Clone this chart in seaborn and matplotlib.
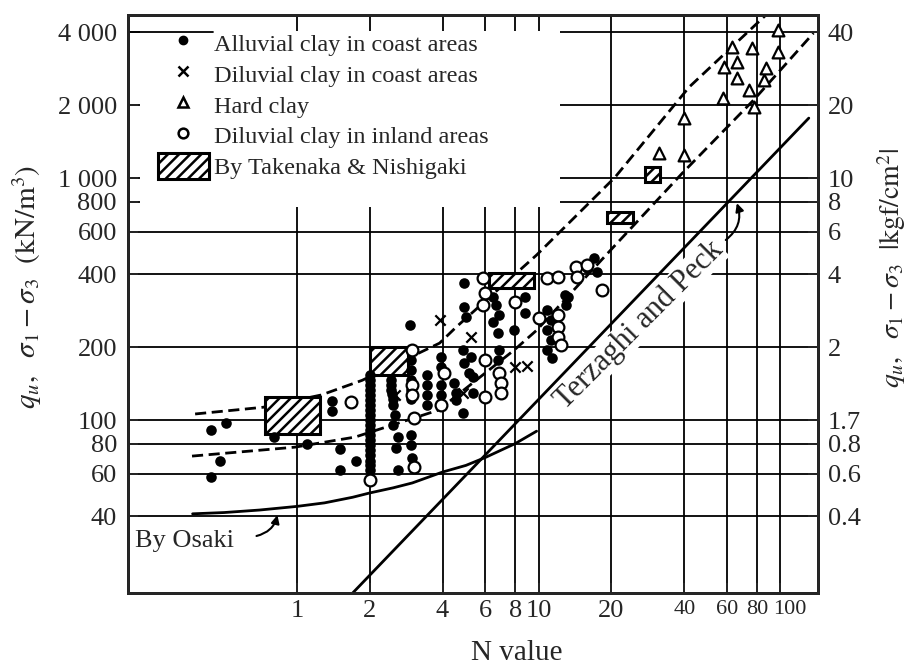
import matplotlib
matplotlib.use("Agg")
import matplotlib.pyplot as plt
import matplotlib.transforms as mtransforms
from matplotlib.patches import Rectangle, Patch
from matplotlib.lines import Line2D
from matplotlib.ticker import FixedLocator, FixedFormatter, NullLocator
import seaborn as sns

# ---------------- data ----------------
# Alluvial clay in coast areas (N value, unconfined strength kN/m2)
alluvial_n = [0.44, 0.51, 0.48, 0.44, 0.80, 1.39, 1.39, 1.10, 1.51, 1.75, 1.51,
              2.0, 2.0, 2.0, 2.0, 2.0, 2.0, 2.0, 2.0, 2.0, 2.0,
              2.0, 2.0, 2.0, 2.0, 2.0, 2.0, 2.0, 2.0, 2.0, 2.0,
              2.45, 2.45, 2.5, 2.54, 2.5, 2.61, 2.56, 2.61, 2.47, 2.5, 2.45,
              2.95, 2.95, 2.95, 2.95, 2.95, 3.0, 2.93, 2.95, 2.95,
              3.45, 3.45, 3.45, 3.45, 3.96, 3.96, 3.96, 3.96,
              4.47, 4.55, 4.55, 4.9, 4.9, 5.0,
              6.45, 6.65, 6.86, 6.5, 6.8, 8.78, 8.78, 7.93,
              10.8, 11.2, 10.8, 11.2, 10.8, 11.4, 13.2, 6.86, 6.8,
              4.86, 4.9, 5.23, 5.13, 5.37, 5.37, 4.86,
              17.0, 17.4, 15.9, 12.9, 13.0]
alluvial_q = [91, 97, 68, 58, 85, 120, 109, 80, 76, 68, 62,
              153, 146, 140, 133, 127, 121, 115, 110, 105, 100,
              95, 91, 87, 83, 79, 75, 72, 68, 65, 62,
              146, 140, 115, 105, 95, 85, 77, 62, 128, 122, 133,
              177, 161, 146, 87, 79, 70, 247, 133, 122,
              153, 140, 127, 115, 182, 166, 140, 127,
              142, 129, 121, 368, 293, 267,
              322, 299, 272, 254, 229, 322, 277, 235,
              285, 259, 235, 214, 195, 180, 322, 195, 177,
              195, 172, 182, 156, 151, 129, 107,
              467, 409, 425, 329, 299]

# Diluvial clay in coast areas
dil_coast_n = [3.89, 2.54, 5.23, 4.86, 8.0, 8.94]
dil_coast_q = [259, 127, 220, 129, 166, 167]

# Hard clay
hard_n = [31.3, 40, 40, 58, 58.5, 63.3, 66, 66, 74.3, 75.9, 77.5, 85.2, 87.5, 98, 98]
hard_q = [1270, 1245, 1770, 2140, 2875, 3480, 3015, 2590, 2310, 3445, 1965, 2540, 2850, 4090, 3320]

# Diluvial clay in inland areas
dil_inland_n = [1.67, 2.0, 3.0, 3.0, 3.0, 3.06, 3.06, 4.04, 3.96,
                5.89, 6.0, 5.89, 8.0, 10.0, 10.8, 12.0, 14.2, 14.4, 15.9, 18.3,
                12.0, 12.0, 12.0, 12.4, 6.0, 6.86, 7.0, 7.0, 6.0]
dil_inland_q = [119, 56.5, 195, 140, 127, 102, 64, 156, 115,
                386, 335, 299, 307, 264, 386, 390, 429, 390, 437, 344,
                272, 242, 220, 204, 177, 156, 142, 129, 124]

# Ranges by Takenaka & Nishigaki
box_n_lo = [0.74, 2.0, 6.2, 19.2, 27.4]
box_n_hi = [1.24, 2.87, 9.6, 24.6, 31.6]
box_q_lo = [88, 153, 351, 652, 962]
box_q_hi = [124, 200, 405, 724, 1110]

# Envelope curves (dashed)
upper_n = [0.379, 0.724, 1.26, 1.86, 3.89, 4.55, 9.8, 20.7, 41.9, 91.4]
upper_q = [106, 113, 127, 146, 208, 242, 481, 1009, 2377, 4940]
lower_n = [0.368, 0.98, 1.74, 3.85, 7.93, 9.8, 20.2, 39.3, 77.4, 137]
lower_q = [71, 77.3, 85.1, 110, 195, 235, 514, 1049, 2100, 3975]

# Terzaghi and Peck
terzaghi_n = [1.7, 131]
terzaghi_q = [19.3, 1770]

# Osaki
osaki_n = [0.37, 0.5, 0.7, 1.0, 1.3, 1.7, 2.0, 2.5, 3.0, 4.0, 5.0, 6.0, 8.0, 9.8]
osaki_q = [41, 41.5, 42.5, 44, 45.5, 48, 50, 52.5, 55, 61, 65, 70, 80, 90]

x_ticks = [1, 2, 4, 6, 8, 10, 20, 40, 60, 80, 100]
x_tick_labels = ["1", "2", "4", "6", "8", "10", "20", "40", "60", "80", "100"]
y_ticks = [40, 60, 80, 100, 200, 400, 600, 800, 1000, 2000, 4000]
y_tick_labels = ["40", "60", "80", "100", "200", "400", "600", "800", "1 000", "2 000", "4 000"]
r_ticks = [0.4, 0.6, 0.8, 1, 2, 4, 6, 8, 10, 20, 40]
r_tick_labels = ["0.4", "0.6", "0.8", "1.7", "2", "4", "6", "8", "10", "20", "40"]

# ---------------- style ----------------
sns.set_style("ticks")
plt.rcParams["font.family"] = ["Liberation Serif", "DejaVu Serif"]
plt.rcParams["mathtext.fontset"] = "stix"
plt.rcParams["hatch.linewidth"] = 1.8
plt.rcParams["hatch.color"] = "black"

fig = plt.figure(figsize=(9.07, 6.71), dpi=100)
ax = fig.add_axes([0.14113, 0.11624, 0.76075, 0.86140])
ax.set_xscale("log")
ax.set_yscale("log")
XLIM = (0.2, 143)
YLIM = (19.3, 4720)
ax.set_xlim(*XLIM)
ax.set_ylim(*YLIM)

ax.set_axisbelow(True)
ax.grid(True, which="major", color="black", linewidth=1.3)
ax.xaxis.set_major_locator(FixedLocator(x_ticks))
ax.xaxis.set_major_formatter(FixedFormatter(x_tick_labels))
ax.yaxis.set_major_locator(FixedLocator(y_ticks))
ax.yaxis.set_major_formatter(FixedFormatter(y_tick_labels))
ax.xaxis.set_minor_locator(NullLocator())
ax.yaxis.set_minor_locator(NullLocator())
ax.tick_params(which="major", direction="in", length=7, width=1.4, labelsize=19)
ax.tick_params(axis="y", pad=8)
ax.tick_params(axis="x", pad=5)
for sp in ax.spines.values():
    sp.set_linewidth(2.0)
    sp.set_color("black")

# smaller labels for the crowded high-N ticks
for lab in ax.get_xticklabels():
    if lab.get_text() in ("40", "60", "80", "100"):
        lab.set_fontsize(16)
    if lab.get_text() == "100":
        lab.set_transform(lab.get_transform() +
                          mtransforms.ScaledTranslation(9 / 100, 0, fig.dpi_scale_trans))

# white panel for the legend
ax.add_patch(Rectangle((0.017, 0.668), 0.609, 0.305, transform=ax.transAxes,
                       facecolor="white", edgecolor="none", zorder=1.5))
blend = mtransforms.blended_transform_factory(ax.transAxes, ax.transData)
ax.plot([0, 0.123], [4000, 4000], transform=blend, color="black", lw=1.3, zorder=1.6)

# lines
sns.lineplot(x=upper_n, y=upper_q, ax=ax, color="black", lw=2.0,
             linestyle=(0, (4, 2)), estimator=None, sort=False, zorder=3)
sns.lineplot(x=lower_n, y=lower_q, ax=ax, color="black", lw=2.0,
             linestyle=(0, (4, 2)), estimator=None, sort=False, zorder=3)
sns.lineplot(x=terzaghi_n, y=terzaghi_q, ax=ax, color="black", lw=2.0,
             estimator=None, sort=False, zorder=3)
sns.lineplot(x=osaki_n, y=osaki_q, ax=ax, color="black", lw=2.0,
             estimator=None, sort=False, zorder=3)

# Takenaka & Nishigaki ranges
for x0, x1, y0, y1 in zip(box_n_lo, box_n_hi, box_q_lo, box_q_hi):
    ax.add_patch(Rectangle((x0, y0), x1 - x0, y1 - y0, facecolor="white",
                           edgecolor="black", hatch="///", lw=2.2, zorder=4))

# scatter series
sns.scatterplot(x=alluvial_n, y=alluvial_q, ax=ax, color="black", marker="o",
                s=58, linewidth=0, zorder=5, legend=False)
sns.scatterplot(x=dil_inland_n, y=dil_inland_q, ax=ax, facecolor="white",
                edgecolor="black", marker="o", s=72, linewidth=1.6, zorder=6, legend=False)
sns.scatterplot(x=dil_coast_n, y=dil_coast_q, ax=ax, color="black", marker="x",
                s=55, linewidth=1.6, zorder=6, legend=False)
sns.scatterplot(x=hard_n, y=hard_q, ax=ax, facecolor="white", edgecolor="black",
                marker="^", s=72, linewidth=1.6, zorder=6, legend=False)

# annotations
ax.text(26, 247, "Terzaghi and Peck", rotation=45, rotation_mode="anchor",
        ha="center", va="center", fontsize=22, zorder=7,
        bbox=dict(facecolor="white", edgecolor="none", pad=0.5))
ax.annotate("", xy=(66, 788), xytext=(59.4, 555),
            arrowprops=dict(arrowstyle="-|>", color="black", lw=1.5,
                            connectionstyle="arc3,rad=0.35", shrinkA=0, shrinkB=0,
                            mutation_scale=12), zorder=7)
ax.text(0.214, 31.6, "By Osaki", ha="left", va="center", fontsize=19, zorder=7)
ax.annotate("", xy=(0.83, 40.5), xytext=(0.68, 33.2),
            arrowprops=dict(arrowstyle="-|>", color="black", lw=1.5,
                            connectionstyle="arc3,rad=0.3", shrinkA=0, shrinkB=0,
                            mutation_scale=12), zorder=7)

# legend
handles = [
    Line2D([], [], marker="o", color="black", linestyle="none", markersize=6),
    Line2D([], [], marker="x", color="black", linestyle="none", markersize=6.5, markeredgewidth=1.8),
    Line2D([], [], marker="^", markerfacecolor="white", markeredgecolor="black",
           linestyle="none", markersize=7, markeredgewidth=1.8),
    Line2D([], [], marker="o", markerfacecolor="white", markeredgecolor="black",
           linestyle="none", markersize=7, markeredgewidth=1.8),
    Patch(facecolor="white", edgecolor="black", hatch="///", lw=2.2),
]
labels = ["Alluvial clay in coast areas", "Diluvial clay in coast areas", "Hard clay",
          "Diluvial clay in inland areas", "By Takenaka & Nishigaki"]
leg = ax.legend(handles, labels, loc="upper left", bbox_to_anchor=(0.043, 0.975),
                frameon=False, fontsize=17.5, handlelength=2.1, handleheight=1.3,
                handletextpad=0.2, labelspacing=0.18, borderpad=0, borderaxespad=0)
leg.set_zorder(8)

# axis labels
ax.set_xlabel("N value", fontsize=21, va="center")
ax.xaxis.set_label_coords(0.564, -0.104)
ax.set_ylabel(r"$q_u,\ \ \sigma_1-\sigma_3\ \ (\mathrm{kN/m}^3)$", fontsize=21, va="center")
ax.yaxis.set_label_coords(-0.146, 0.53)

# right-hand axis in kgf/cm2
ax2 = ax.twinx()
ax2.set_yscale("log")
ax2.set_ylim(YLIM[0] / 100, YLIM[1] / 100)
ax2.yaxis.set_major_locator(FixedLocator(r_ticks))
ax2.yaxis.set_major_formatter(FixedFormatter(r_tick_labels))
ax2.yaxis.set_minor_locator(NullLocator())
ax2.tick_params(which="major", direction="in", length=7, width=1.4, labelsize=19, pad=7)
ax2.grid(False)
for sp in ax2.spines.values():
    sp.set_linewidth(2.0)
ax2.set_ylabel(r"$q_u,\ \ \sigma_1-\sigma_3\ \ |\mathrm{kgf/cm}^2|$", fontsize=20,
               rotation=90, va="center")
ax2.yaxis.set_label_coords(1.107, 0.562)

fig.savefig("out.png", dpi=100)
